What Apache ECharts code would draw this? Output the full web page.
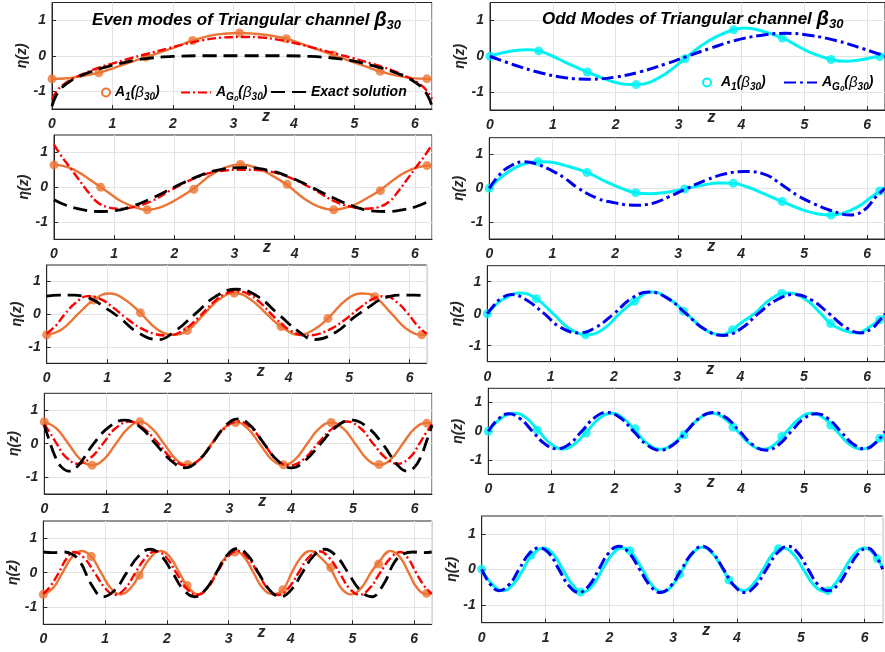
<!DOCTYPE html>
<html><head><meta charset="utf-8">
<script src="https://cdn.jsdelivr.net/npm/echarts@6/dist/echarts.min.js"></script>
<style>html,body{margin:0;padding:0;background:#fff}#c{width:885px;height:652px}</style>
</head><body><div id="c"></div>
<script>
const xTicks = [0,1,2,3,4,5,6];
const yTicks = [-1,0,1];
const Z_MAX = 6.2832;

// ---------- Even modes (left column) ----------
const L1_A1 = [[0,-0.65],[0.2,-0.64],[0.4,-0.6],[0.6,-0.54],[0.775,-0.48],[1.0,-0.36],[1.25,-0.21],[1.55,-0.04],[1.8,0.1],[2.05,0.25],[2.325,0.43],[2.6,0.56],[2.85,0.62],[3.1,0.64],[3.35,0.62],[3.6,0.57],[3.875,0.48],[4.1,0.35],[4.4,0.17],[4.65,0.02],[4.9,-0.13],[5.15,-0.28],[5.425,-0.44],[5.7,-0.56],[5.95,-0.63],[6.2,-0.65],[6.283,-0.65]];
const L1_A1_marks = [[0,-0.65],[0.775,-0.48],[1.55,-0.04],[2.325,0.43],[3.1,0.64],[3.875,0.48],[4.65,0.02],[5.425,-0.44],[6.2,-0.65]];
const L1_AG0 = [[0,-1.22],[0.1,-0.95],[0.25,-0.74],[0.4,-0.6],[0.6,-0.45],[0.8,-0.32],[1.0,-0.22],[1.3,-0.07],[1.57,0.05],[1.9,0.2],[2.2,0.33],[2.5,0.44],[2.8,0.51],[3.14,0.53],[3.48,0.51],[3.78,0.44],[4.08,0.33],[4.38,0.2],[4.71,0.05],[4.98,-0.07],[5.28,-0.22],[5.48,-0.32],[5.68,-0.45],[5.88,-0.6],[6.03,-0.74],[6.18,-0.95],[6.283,-1.22]];
const L1_exact = [[0,-1.42],[0.06,-1.15],[0.15,-0.92],[0.25,-0.78],[0.4,-0.62],[0.6,-0.48],[0.8,-0.36],[1.0,-0.27],[1.35,-0.13],[1.6,-0.07],[2.0,-0.02],[2.5,0],[3.14,0],[3.78,0],[4.28,-0.02],[4.68,-0.07],[4.93,-0.13],[5.28,-0.27],[5.48,-0.36],[5.68,-0.48],[5.88,-0.62],[6.03,-0.78],[6.13,-0.92],[6.22,-1.15],[6.283,-1.42]];

const L2_A1 = [[0,0.64],[0.2,0.59],[0.4,0.44],[0.6,0.21],[0.775,0.0],[0.95,-0.21],[1.1,-0.39],[1.35,-0.58],[1.55,-0.65],[1.8,-0.56],[2.05,-0.34],[2.325,-0.04],[2.6,0.34],[2.85,0.57],[3.1,0.65],[3.35,0.57],[3.6,0.36],[3.875,0.06],[4.15,-0.32],[4.4,-0.56],[4.65,-0.65],[4.9,-0.57],[5.15,-0.37],[5.425,-0.08],[5.7,0.28],[5.95,0.52],[6.2,0.62],[6.283,0.63]];
const L2_A1_marks = [[0,0.64],[0.775,0.0],[1.55,-0.65],[2.325,-0.06],[3.1,0.65],[3.875,0.08],[4.65,-0.65],[5.425,-0.1],[6.2,0.62]];
const L2_AG0 = [[0,1.22],[0.12,0.9],[0.25,0.6],[0.4,0.25],[0.55,-0.1],[0.71,-0.42],[0.9,-0.58],[1.1,-0.62],[1.3,-0.58],[1.6,-0.42],[2.0,-0.03],[2.4,0.3],[2.75,0.46],[3.14,0.5],[3.53,0.46],[3.88,0.3],[4.28,-0.03],[4.68,-0.42],[4.98,-0.58],[5.18,-0.62],[5.38,-0.58],[5.57,-0.42],[5.73,-0.1],[5.88,0.25],[6.03,0.6],[6.16,0.9],[6.283,1.22]];
const L2_exact = [[0,-0.36],[0.2,-0.52],[0.45,-0.64],[0.75,-0.7],[1.0,-0.68],[1.3,-0.55],[1.65,-0.3],[2.0,0.0],[2.35,0.28],[2.7,0.48],[3.14,0.56],[3.58,0.48],[3.93,0.28],[4.28,0.0],[4.63,-0.3],[4.98,-0.55],[5.28,-0.68],[5.53,-0.7],[5.83,-0.64],[6.08,-0.52],[6.283,-0.36]];

const L3_A1 = [[0,-0.63],[0.26,-0.45],[0.515,0.0],[0.775,0.43],[1.03,0.63],[1.29,0.45],[1.55,0.04],[1.82,-0.45],[2.1,-0.63],[2.325,-0.5],[2.59,-0.02],[2.85,0.45],[3.1,0.64],[3.37,0.45],[3.64,0.0],[3.875,-0.38],[4.18,-0.63],[4.42,-0.47],[4.65,-0.13],[4.96,0.45],[5.22,0.63],[5.425,0.53],[5.71,0.0],[5.95,-0.45],[6.2,-0.63],[6.283,-0.62]];
const L3_A1_marks = [[0,-0.63],[0.775,0.43],[1.55,0.04],[2.325,-0.5],[3.1,0.64],[3.875,-0.38],[4.65,-0.13],[5.425,0.53],[6.2,-0.63]];
const L3_AG0 = [[0,-0.6],[0.15,-0.35],[0.3,0.0],[0.48,0.35],[0.68,0.55],[0.9,0.45],[1.1,0.2],[1.3,-0.1],[1.55,-0.42],[1.78,-0.6],[2.0,-0.65],[2.25,-0.5],[2.5,-0.12],[2.75,0.35],[2.95,0.62],[3.14,0.7],[3.33,0.62],[3.53,0.35],[3.78,-0.12],[4.03,-0.5],[4.28,-0.65],[4.5,-0.6],[4.73,-0.42],[4.98,-0.1],[5.18,0.2],[5.38,0.45],[5.6,0.55],[5.8,0.35],[5.98,0.0],[6.13,-0.35],[6.283,-0.6]];
const L3_exact = [[0,0.55],[0.2,0.58],[0.45,0.58],[0.65,0.52],[0.775,0.43],[0.95,0.22],[1.2,-0.1],[1.5,-0.55],[1.85,-0.78],[2.1,-0.55],[2.45,0.0],[2.8,0.55],[3.14,0.76],[3.48,0.55],[3.83,0.0],[4.18,-0.55],[4.43,-0.78],[4.78,-0.55],[5.08,-0.1],[5.33,0.22],[5.5,0.43],[5.63,0.52],[5.83,0.58],[6.08,0.58],[6.283,0.55]];

const L4_A1 = [[0,0.65],[0.19,0.46],[0.39,0.0],[0.58,-0.46],[0.775,-0.64],[0.97,-0.46],[1.16,0.0],[1.36,0.46],[1.55,0.65],[1.74,0.46],[1.94,0.0],[2.13,-0.46],[2.325,-0.63],[2.52,-0.46],[2.71,0.0],[2.91,0.46],[3.1,0.64],[3.29,0.46],[3.49,0.0],[3.68,-0.46],[3.875,-0.63],[4.07,-0.46],[4.26,0.0],[4.46,0.46],[4.65,0.63],[4.84,0.46],[5.04,0.0],[5.23,-0.46],[5.425,-0.63],[5.62,-0.46],[5.81,0.0],[6.01,0.46],[6.2,0.62],[6.283,0.58]];
const L4_A1_marks = [[0,0.65],[0.775,-0.64],[1.55,0.65],[2.325,-0.62],[3.1,0.63],[3.875,-0.63],[4.65,0.63],[5.425,-0.62],[6.2,0.61]];
const L4_AG0 = [[0,0.58],[0.1,0.3],[0.2,0.0],[0.35,-0.4],[0.55,-0.6],[0.75,-0.42],[0.95,0.0],[1.15,0.45],[1.38,0.66],[1.6,0.47],[1.85,0.0],[2.08,-0.47],[2.3,-0.65],[2.52,-0.47],[2.72,0.0],[2.93,0.47],[3.14,0.66],[3.35,0.47],[3.56,0.0],[3.76,-0.47],[3.98,-0.65],[4.2,-0.47],[4.43,0.0],[4.68,0.47],[4.9,0.66],[5.13,0.45],[5.33,0.0],[5.53,-0.42],[5.73,-0.6],[5.93,-0.4],[6.08,0.0],[6.18,0.3],[6.283,0.58]];
const L4_exact = [[0,0.55],[0.08,0.1],[0.18,-0.4],[0.28,-0.7],[0.4,-0.82],[0.55,-0.65],[0.8,0.0],[1.05,0.5],[1.3,0.7],[1.55,0.5],[1.8,0.0],[2.05,-0.5],[2.28,-0.72],[2.5,-0.5],[2.72,0.0],[2.93,0.52],[3.14,0.74],[3.35,0.52],[3.56,0.0],[3.78,-0.5],[4.0,-0.72],[4.23,-0.5],[4.48,0.0],[4.73,0.5],[4.98,0.7],[5.23,0.5],[5.48,0.0],[5.73,-0.65],[5.88,-0.82],[6.0,-0.7],[6.1,-0.4],[6.2,0.1],[6.283,0.55]];

const L5_A1 = [[0,-0.63],[0.155,-0.45],[0.31,0.0],[0.465,0.45],[0.62,0.63],[0.775,0.47],[0.935,0.0],[1.09,-0.45],[1.25,-0.63],[1.41,-0.45],[1.55,-0.08],[1.74,0.45],[1.9,0.63],[2.05,0.45],[2.2,0.0],[2.325,-0.37],[2.5,-0.63],[2.65,-0.45],[2.8,0.0],[2.95,0.45],[3.1,0.62],[3.25,0.45],[3.4,0.0],[3.55,-0.45],[3.72,-0.63],[3.875,-0.5],[4.02,0.0],[4.17,0.45],[4.32,0.63],[4.48,0.45],[4.65,0.1],[4.82,-0.45],[4.98,-0.63],[5.14,-0.45],[5.3,0.0],[5.425,0.3],[5.62,0.63],[5.77,0.45],[5.91,0.0],[6.05,-0.45],[6.2,-0.62],[6.283,-0.58]];
const L5_A1_marks = [[0,-0.63],[0.775,0.47],[1.55,-0.08],[2.325,-0.37],[3.1,0.6],[3.875,-0.5],[4.65,0.15],[5.425,0.25],[6.2,-0.6]];
const L5_AG0 = [[0,-0.62],[0.12,-0.38],[0.25,0.0],[0.38,0.42],[0.5,0.6],[0.66,0.43],[0.83,0.0],[1.0,-0.45],[1.16,-0.64],[1.33,-0.45],[1.49,0.0],[1.66,0.44],[1.82,0.62],[1.99,0.44],[2.15,0.0],[2.32,-0.46],[2.48,-0.65],[2.65,-0.46],[2.81,0.0],[2.98,0.45],[3.14,0.63],[3.3,0.45],[3.47,0.0],[3.63,-0.46],[3.8,-0.65],[3.96,-0.46],[4.13,0.0],[4.29,0.44],[4.46,0.62],[4.62,0.44],[4.79,0.0],[4.95,-0.45],[5.12,-0.64],[5.28,-0.45],[5.45,0.0],[5.62,0.43],[5.78,0.6],[5.9,0.42],[6.03,0.0],[6.16,-0.38],[6.283,-0.62]];
const L5_exact = [[0,0.6],[0.15,0.58],[0.3,0.6],[0.45,0.55],[0.6,0.3],[0.78,-0.35],[0.97,-0.7],[1.16,-0.5],[1.35,0.0],[1.54,0.48],[1.73,0.68],[1.91,0.48],[2.09,0.0],[2.27,-0.5],[2.45,-0.7],[2.62,-0.5],[2.8,0.0],[2.97,0.5],[3.14,0.7],[3.31,0.5],[3.48,0.0],[3.66,-0.5],[3.83,-0.7],[4.01,-0.5],[4.19,0.0],[4.37,0.48],[4.55,0.68],[4.74,0.48],[4.93,0.0],[5.12,-0.5],[5.31,-0.7],[5.5,-0.35],[5.68,0.3],[5.83,0.55],[5.98,0.6],[6.13,0.58],[6.283,0.6]];

// ---------- Odd modes (right column) ----------
const R1_A1 = [[0,0],[0.2,0.1],[0.4,0.16],[0.6,0.18],[0.775,0.15],[1.0,0.0],[1.2,-0.17],[1.55,-0.44],[1.9,-0.68],[2.15,-0.78],[2.35,-0.79],[2.55,-0.72],[2.8,-0.48],[3.1,-0.07],[3.35,0.28],[3.6,0.55],[3.875,0.74],[4.05,0.79],[4.3,0.72],[4.65,0.51],[4.9,0.28],[5.1,0.1],[5.425,-0.09],[5.65,-0.14],[5.9,-0.1],[6.1,-0.03],[6.283,0.04]];
const R1_A1_marks = [[0,0],[0.775,0.15],[1.55,-0.44],[2.325,-0.79],[3.1,-0.07],[3.875,0.74],[4.65,0.51],[5.425,-0.09],[6.2,-0.01]];
const R1_AG0 = [[0,0],[0.4,-0.25],[0.8,-0.46],[1.2,-0.6],[1.6,-0.64],[2.0,-0.58],[2.4,-0.43],[2.8,-0.21],[3.14,0],[3.5,0.22],[3.9,0.44],[4.3,0.58],[4.7,0.64],[5.1,0.58],[5.5,0.44],[5.9,0.23],[6.283,0]];

const R2_A1 = [[0,0],[0.2,0.35],[0.4,0.6],[0.6,0.75],[0.775,0.79],[0.95,0.78],[1.2,0.68],[1.55,0.47],[1.85,0.2],[2.1,0.0],[2.325,-0.13],[2.55,-0.16],[2.8,-0.12],[3.1,-0.02],[3.4,0.1],[3.65,0.16],[3.875,0.15],[4.1,0.04],[4.35,-0.15],[4.65,-0.39],[4.95,-0.62],[5.2,-0.75],[5.425,-0.79],[5.6,-0.75],[5.85,-0.55],[6.05,-0.28],[6.2,-0.08],[6.283,0.03]];
const R2_A1_marks = [[0,0],[0.775,0.79],[1.55,0.47],[2.325,-0.13],[3.1,-0.02],[3.875,0.15],[4.65,-0.39],[5.425,-0.79],[6.2,-0.08]];
const R2_AG0 = [[0,0],[0.15,0.38],[0.3,0.62],[0.55,0.79],[0.75,0.72],[1.0,0.52],[1.2,0.3],[1.4,0.02],[1.72,-0.3],[2.0,-0.43],[2.3,-0.5],[2.6,-0.44],[2.85,-0.25],[3.14,0.0],[3.45,0.25],[3.75,0.43],[4.05,0.5],[4.35,0.43],[4.65,0.1],[4.9,-0.22],[5.15,-0.45],[5.4,-0.64],[5.74,-0.79],[5.95,-0.65],[6.14,-0.25],[6.283,0]];

const R3_A1 = [[0,0],[0.12,0.25],[0.25,0.45],[0.5,0.65],[0.775,0.47],[1.04,0.0],[1.3,-0.47],[1.58,-0.66],[1.84,-0.47],[2.09,0.0],[2.325,0.39],[2.6,0.68],[2.87,0.47],[3.15,0.0],[3.42,-0.47],[3.7,-0.66],[3.875,-0.5],[4.0,-0.3],[4.22,0.0],[4.48,0.46],[4.75,0.65],[5.02,0.46],[5.27,0.0],[5.425,-0.31],[5.6,-0.5],[5.85,-0.6],[6.05,-0.4],[6.2,-0.19],[6.283,-0.05]];
const R3_A1_marks = [[0,0],[0.775,0.47],[1.55,-0.66],[2.325,0.39],[3.1,0.08],[3.875,-0.5],[4.65,0.63],[5.425,-0.31],[6.2,-0.19]];
const R3_AG0 = [[0,0],[0.1,0.25],[0.2,0.45],[0.38,0.6],[0.6,0.45],[0.9,0.0],[1.15,-0.42],[1.45,-0.6],[1.72,-0.42],[2.0,0.0],[2.28,0.48],[2.55,0.68],[2.85,0.48],[3.14,0.0],[3.43,-0.48],[3.73,-0.68],[4.0,-0.48],[4.28,0.0],[4.56,0.42],[4.85,0.6],[5.13,0.42],[5.4,0.0],[5.68,-0.45],[5.9,-0.6],[6.08,-0.45],[6.18,-0.25],[6.283,0]];

const R4_A1 = [[0,0],[0.2,0.45],[0.42,0.63],[0.61,0.45],[0.8,0.0],[0.99,-0.44],[1.18,-0.62],[1.37,-0.44],[1.565,0.0],[1.76,0.45],[1.95,0.63],[2.14,0.45],[2.335,0.0],[2.53,-0.45],[2.72,-0.63],[2.92,-0.45],[3.13,0.0],[3.34,0.45],[3.54,0.63],[3.74,0.45],[3.95,0.0],[4.15,-0.45],[4.35,-0.63],[4.54,-0.45],[4.73,0.0],[4.93,0.45],[5.12,0.63],[5.32,0.45],[5.52,0.0],[5.72,-0.45],[5.92,-0.62],[6.12,-0.42],[6.283,-0.1]];
const R4_A1_marks = [[0,0],[0.775,0.04],[1.55,-0.06],[2.325,0.09],[3.1,-0.12],[3.875,0.15],[4.65,-0.18],[5.425,0.21],[6.2,-0.24]];
const R4_AG0 = [[0,0],[0.16,0.43],[0.32,0.61],[0.51,0.43],[0.7,0.0],[0.89,-0.43],[1.08,-0.61],[1.28,-0.45],[1.48,0.0],[1.68,0.47],[1.88,0.66],[2.09,0.47],[2.3,0.0],[2.51,-0.47],[2.72,-0.66],[2.93,-0.47],[3.14,0.0],[3.35,0.47],[3.56,0.66],[3.77,0.47],[3.98,0.0],[4.19,-0.47],[4.4,-0.66],[4.6,-0.47],[4.8,0.0],[5.0,0.45],[5.2,0.61],[5.39,0.43],[5.58,0.0],[5.77,-0.43],[5.96,-0.61],[6.12,-0.43],[6.283,0.0]];

const R5_A1 = [[0,0],[0.165,-0.42],[0.33,-0.6],[0.49,-0.43],[0.65,0.0],[0.775,0.36],[0.97,0.6],[1.12,0.43],[1.27,0.0],[1.43,-0.45],[1.58,-0.64],[1.74,-0.45],[1.89,0.0],[2.05,0.43],[2.2,0.6],[2.325,0.52],[2.52,0.0],[2.67,-0.45],[2.83,-0.63],[2.99,-0.45],[3.15,0.0],[3.3,0.44],[3.46,0.62],[3.62,0.44],[3.78,0.0],[3.875,-0.3],[3.94,-0.43],[4.1,-0.6],[4.25,-0.43],[4.41,0.0],[4.56,0.43],[4.72,0.6],[4.88,0.43],[5.04,0.0],[5.2,-0.43],[5.37,-0.62],[5.52,-0.45],[5.68,0.0],[5.84,0.43],[6.0,0.6],[6.15,0.42],[6.283,0.05]];
const R5_A1_marks = [[0,0],[0.775,0.4],[1.55,-0.64],[2.325,0.52],[3.1,-0.14],[3.875,-0.3],[4.65,0.58],[5.425,-0.6],[6.2,0.3]];
const R5_AG0 = [[0,0],[0.135,-0.42],[0.27,-0.6],[0.43,-0.43],[0.585,0.0],[0.74,0.43],[0.9,0.6],[1.055,0.45],[1.21,0.0],[1.365,-0.46],[1.52,-0.65],[1.68,-0.46],[1.835,0.0],[1.99,0.46],[2.15,0.65],[2.31,0.46],[2.475,0.0],[2.64,-0.46],[2.8,-0.65],[2.965,-0.46],[3.13,0.0],[3.3,0.46],[3.46,0.65],[3.62,0.46],[3.79,0.0],[3.955,-0.46],[4.12,-0.65],[4.29,-0.46],[4.46,0.0],[4.63,0.46],[4.8,0.65],[4.96,0.45],[5.115,0.0],[5.27,-0.43],[5.43,-0.6],[5.585,-0.43],[5.74,0.0],[5.895,0.43],[6.05,0.6],[6.165,0.42],[6.283,0.0]];

// ---------- layout & styles ----------
const FONT = "'Liberation Sans', Arial, Helvetica, sans-serif";
const DARK = '#262626';
const ORANGE = '#EC7535', RED = '#FF0000', BLACK = '#000000', CYAN = '#00F2F2', BLUE = '#0000F0';

const panels = [
  {g:[52,2.5,380,106.5], side:'L', a1:L1_A1, mk:L1_A1_marks, ag:L1_AG0, ex:L1_exact},
  {g:[54,135,378,104.3], side:'L', a1:L2_A1, mk:L2_A1_marks, ag:L2_AG0, ex:L2_exact},
  {g:[46.7,265,380,98.3], side:'L', a1:L3_A1, mk:L3_A1_marks, ag:L3_AG0, ex:L3_exact},
  {g:[44.3,393.3,387.7,100.7], side:'L', a1:L4_A1, mk:L4_A1_marks, ag:L4_AG0, ex:L4_exact},
  {g:[43.3,521,388.4,103.3], side:'L', a1:L5_A1, mk:L5_A1_marks, ag:L5_AG0, ex:L5_exact},
  {g:[490,2.5,403,107.5], side:'R', a1:R1_A1, mk:R1_A1_marks, ag:R1_AG0},
  {g:[489.3,137.7,405,101.3], side:'R', a1:R2_A1, mk:R2_A1_marks, ag:R2_AG0},
  {g:[487.3,265.7,408,96], side:'R', a1:R3_A1, mk:R3_A1_marks, ag:R3_AG0},
  {g:[488.3,388.3,399,86], side:'R', a1:R4_A1, mk:R4_A1_marks, ag:R4_AG0},
  {g:[481.7,516,401,106.7], side:'R', a1:R5_A1, mk:R5_A1_marks, ag:R5_AG0}
];

const labelStyle = {fontFamily: FONT, fontWeight: 'bold', fontStyle: 'italic', color: DARK, fontSize: 14};
const grid = [], xAxis = [], yAxis = [], series = [];

panels.forEach((p, i) => {
  grid.push({left: p.g[0], top: p.g[1], width: p.g[2], height: p.g[3], show: true,
    borderColor: DARK, borderWidth: 1, backgroundColor: '#fff'});
  xAxis.push({gridIndex: i, type: 'value', min: 0, max: Z_MAX, interval: 1,
    axisLine: {show: true, onZero: false, lineStyle: {color: DARK, width: 1}},
    axisTick: {show: true, inside: true, length: 4, lineStyle: {color: DARK}},
    splitLine: {show: true, lineStyle: {color: '#e3e3e3', width: 1}},
    axisLabel: Object.assign({}, labelStyle, {margin: 8, showMaxLabel: false,
      formatter: v => (xTicks.indexOf(Math.round(v*1000)/1000) >= 0 ? String(v) : '')}),
    name: 'z', nameLocation: 'middle', nameGap: 0, nameMoveOverlap: false,
    nameTextStyle: {fontFamily: FONT, fontWeight: 'bold', fontStyle: 'italic', color: DARK, fontSize: 16, padding: [0,0,0,48]}
  });
  yAxis.push({gridIndex: i, type: 'value', min: -1.5, max: 1.5,
    axisLine: {show: true, onZero: false, lineStyle: {color: DARK, width: 1}},
    axisTick: {show: true, inside: true, length: 4, customValues: yTicks, lineStyle: {color: DARK}},
    splitLine: {show: true, lineStyle: {color: '#e3e3e3', width: 1}},
    axisLabel: Object.assign({}, labelStyle, {margin: 6, customValues: yTicks}),
    name: 'η(z)', nameLocation: 'middle', nameRotate: 90, nameGap: 23,
    nameTextStyle: {fontFamily: FONT, fontWeight: 'bold', fontStyle: 'italic', color: DARK, fontSize: 14}
  });
  const even = p.side === 'L';
  const cA = even ? ORANGE : CYAN, cG = even ? RED : BLUE;
  series.push({name: even ? 'A1e' : 'A1o', type: 'line', xAxisIndex: i, yAxisIndex: i, data: p.a1,
    smooth: 0.45, symbol: 'none', lineStyle: {color: cA, width: even ? 2.4 : 3}, itemStyle: {color: cA}, z: 2});
  series.push({name: even ? 'A1e_m' : 'A1o_m', type: 'scatter', xAxisIndex: i, yAxisIndex: i, data: p.mk,
    symbol: 'circle', symbolSize: 9, itemStyle: {color: cA}, z: 3});
  series.push({name: even ? 'AG0e' : 'AG0o', type: 'line', xAxisIndex: i, yAxisIndex: i, data: p.ag,
    smooth: 0.45, symbol: 'none',
    lineStyle: {color: cG, width: even ? 2.4 : 3, type: even ? [9,3,2,3] : [12,4,3,4]}, itemStyle: {color: cG}, z: 4});
  if (p.ex) {
    series.push({name: 'EXe', type: 'line', xAxisIndex: i, yAxisIndex: i, data: p.ex,
      smooth: 0.45, symbol: 'none', lineStyle: {color: BLACK, width: 2.8, type: [14,7]}, itemStyle: {color: BLACK}, z: 5});
  }
});

const rich = {
  a: {fontFamily: FONT, fontWeight: 'bold', fontStyle: 'italic', fontSize: 14, color: '#000', lineHeight: 20},
  g: {fontFamily: FONT, fontStyle: 'italic', fontSize: 15, color: '#000', lineHeight: 20},
  s: {fontFamily: FONT, fontWeight: 'bold', fontStyle: 'italic', fontSize: 10, color: '#000', lineHeight: 12, verticalAlign: 'bottom'},
  ss: {fontFamily: FONT, fontWeight: 'bold', fontStyle: 'italic', fontSize: 8, color: '#000', lineHeight: 6, verticalAlign: 'bottom'}
};
const fmtA1 = () => '{a|A}{s|1}{a|(}{g|β}{s|30}{a|)}';
const fmtAG = () => '{a|A}{s|G}{ss|0}{a|(}{g|β}{s|30}{a|)}';
const legBase = {orient: 'horizontal', padding: 0, selectedMode: false, textStyle: {rich: rich}};
const noSym = {opacity: 0};

const legend = [
  Object.assign({}, legBase, {data: [{name: 'A1e', icon: 'circle', itemStyle: {color: '#fff', borderColor: ORANGE, borderWidth: 2}}],
    left: 101, top: 85, itemWidth: 8, itemHeight: 8, formatter: fmtA1}),
  Object.assign({}, legBase, {data: [{name: 'AG0e', itemStyle: noSym}], left: 180, top: 85, itemWidth: 30, itemHeight: 10, formatter: fmtAG}),
  Object.assign({}, legBase, {data: [{name: 'EXe', itemStyle: noSym}], left: 270, top: 85, itemWidth: 35, itemHeight: 10, formatter: () => '{a|Exact solution}'}),
  Object.assign({}, legBase, {data: [{name: 'A1o', icon: 'circle', itemStyle: {color: '#fff', borderColor: CYAN, borderWidth: 2}}],
    left: 702, top: 75, itemWidth: 18, itemHeight: 8, formatter: fmtA1}),
  Object.assign({}, legBase, {data: [{name: 'AG0o', itemStyle: noSym}], left: 783, top: 75, itemWidth: 33, itemHeight: 10, formatter: fmtAG})
];

const titleRich = {
  t: {fontFamily: FONT, fontWeight: 'bold', fontStyle: 'italic', fontSize: 17, color: '#000', lineHeight: 24},
  b: {fontFamily: FONT, fontStyle: 'italic', fontSize: 20, color: '#000', lineHeight: 24},
  s: {fontFamily: FONT, fontWeight: 'bold', fontStyle: 'italic', fontSize: 13, color: '#000', lineHeight: 14, verticalAlign: 'bottom'}
};
const title = [
  {text: '{t|Even modes of Triangular channel }{b|β}{s|30}', left: 92, top: 8, padding: 0, textStyle: {rich: titleRich}},
  {text: '{t|Odd Modes of Triangular channel }{b|β}{s|30}', left: 542, top: 7, padding: 0, textStyle: {rich: titleRich}}
];

const chart = echarts.init(document.getElementById('c'), null, {renderer: 'canvas'});
chart.setOption({animation: false, backgroundColor: '#fff', title, legend, grid, xAxis, yAxis, series});
</script>
</body></html>
